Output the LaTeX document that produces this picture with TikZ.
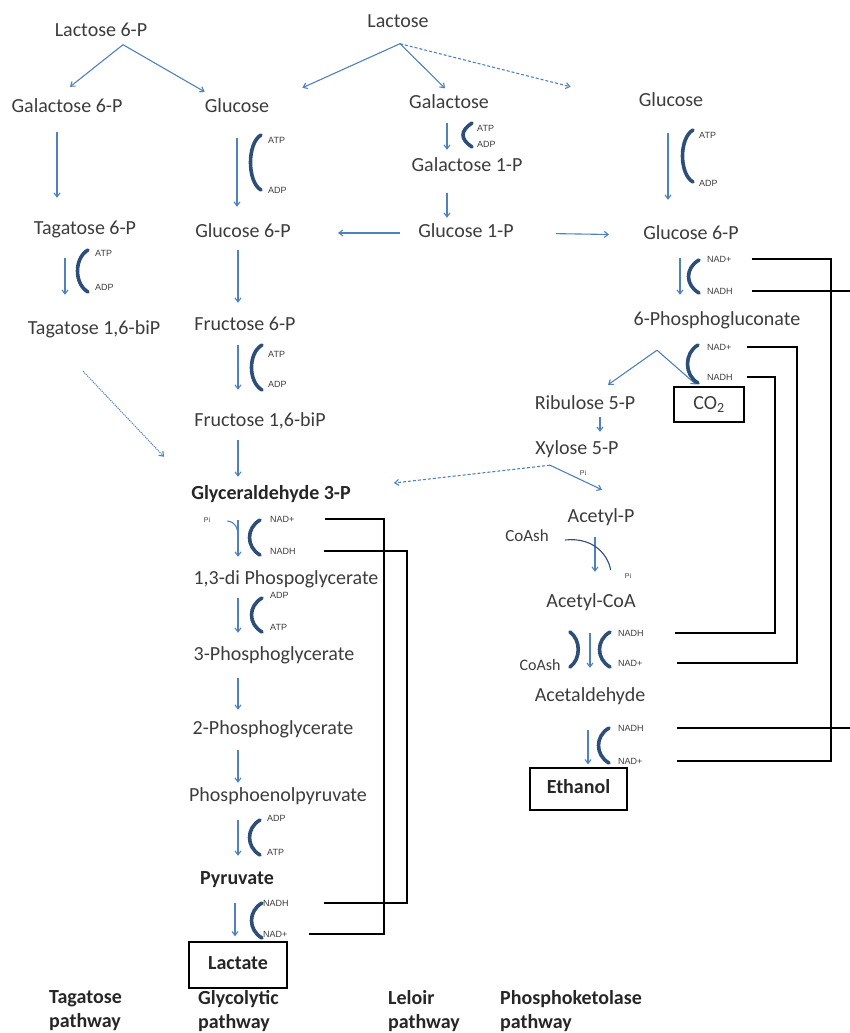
\documentclass[tikz,border=0pt]{standalone}
\usepackage{fontspec}
\setmainfont{Carlito}
\newfontfamily\rotulo{Liberation Sans}
\usetikzlibrary{arrows.meta,calc}
\definecolor{azul}{RGB}{79,129,189}
\definecolor{escuro}{RGB}{44,78,120}
\definecolor{texto}{RGB}{60,60,60}
\begin{document}
\begin{tikzpicture}[x=1pt,y=-1pt,
	met/.style={font=\fontsize{20}{24}\selectfont, text=texto, text height=13pt, text depth=4pt, inner sep=2pt},
	metb/.style={met, font=\fontsize{20}{24}\selectfont\bfseries, text=black!85},
	caixa/.style={draw=black, line width=1.2pt},
	cof/.style={font=\rotulo\fontsize{9}{10}\selectfont, text=texto, anchor=west, inner sep=0pt},
	pe/.style={font=\rotulo\fontsize{7}{8}\selectfont, text=texto, inner sep=0pt},
	via/.style={font=\fontsize{20}{24}\selectfont\bfseries, text=black!85, align=left, anchor=north west, inner sep=0pt},
	seta/.style={draw=azul, line width=1.1pt, -{Straight Barb[length=4pt,width=6pt]}},
	colchete/.style={draw=escuro, line width=3.6pt, line cap=round},
	fio/.style={draw=black, line width=1.1pt}]

\useasboundingbox (0,0) rectangle (850,1033);

% via do tagatose
	\node[met] (lac6p) at (101,32) {Lactose 6-P};
	\node[met] (gal6p) at (67,108) {Galactose 6-P};
	\node[met] (tag6p) at (85,230) {Tagatose 6-P};
	\node[met] (tbp) at (94,330) {Tagatose 1,6-biP};

% via glicolitica
	\node[met] (glcA) at (237,108) {Glucose};
	\node[met] (g6pA) at (243,233) {Glucose 6-P};
	\node[met] (f6p) at (245,326) {Fructose 6-P};
	\node[met] (f16) at (260,422) {Fructose 1,6-biP};
	\node[metb] (g3p) at (271,495) {Glyceraldehyde 3-P};
	\node[met] (dpg) at (286,580) {1,3-di Phospoglycerate};
	\node[met] (pga3) at (274,656) {3-Phosphoglycerate};
	\node[met] (pga2) at (273,730) {2-Phosphoglycerate};
	\node[met] (pep) at (278,797) {Phosphoenolpyruvate};
	\node[metb] (pyr) at (237,880) {Pyruvate};
	\node[metb, caixa, minimum width=98pt, minimum height=46pt] (lct) at (238,965) {Lactate};

% via de leloir
	\node[met] (lcs) at (398,23) {Lactose};
	\node[met] (gal) at (449,104) {Galactose};
	\node[met] (gal1p) at (467,167) {Galactose 1-P};
	\node[met] (g1p) at (466,233) {Glucose 1-P};

% via da fosfocetolase
	\node[met] (glcB) at (671,102) {Glucose};
	\node[met] (g6pB) at (691,235) {Glucose 6-P};
	\node[met] (pg6) at (717,321) {6-Phosphogluconate};
	\node[met] (rib) at (585,405) {Ribulose 5-P};
	\node[met, caixa, minimum width=70pt, minimum height=35pt] (co2) at (709,404.5) {CO\textsubscript{2}};
	\node[met] (xyl) at (577,450) {Xylose 5-P};
	\node[met] (acp) at (601,518) {Acetyl-P};
	\node[met] (acoa) at (591,603) {Acetyl-CoA};
	\node[met] (acet) at (590,697) {Acetaldehyde};
	\node[metb, caixa, minimum width=97pt, minimum height=42pt] (eth) at (578.5,789) {Ethanol};
	\node[met, font=\fontsize{17}{20}\selectfont] (coa1) at (527,537) {CoAsh};
	\node[met, font=\fontsize{16}{19}\selectfont] (coa2) at (540,666) {CoAsh};

% cofatores
	\foreach \n/\x/\y/\t in {glcAatp/268/140/ATP, glcAadp/268/190/ADP, galatp/477/128/ATP, galadp/477/144/ADP,
		glcBatp/699/135/ATP, glcBadp/699/183/ADP, tagatp/95/253/ATP, tagadp/95/287/ADP,
		f6patp/268/354/ATP, f6padp/268/384/ADP, g6pBnadp/707/259/NAD+, g6pBnadh/707/291/NADH,
		pg6nadp/707/347/NAD+, pg6nadh/707/377/NADH, g3pnadp/270/519/NAD+, g3pnadh/270/551/NADH,
		dpgadp/270/595/ADP, dpgatp/270/627/ATP, pepadp/267/818/ADP, pepatp/267/852/ATP,
		pyrnadh/263/903/NADH, pyrnadp/263/934/NAD+, acoanadh/618/633/NADH, acoanadp/618/663/NAD+,
		acetnadh/618/728/NADH, acetnadp/618/761/NAD+}
		\node[cof] (\n) at (\x,\y) {\t};
	\node[pe] (pi1) at (207,520) {Pi};
	\node[pe] (pi2) at (583,473) {Pi};
	\node[pe] (pi3) at (628,576) {Pi};

% setas verticais
	\foreach \a/\b/\x/\s/\e in {glcA/g6pA/237/19.5pt/15.5pt, g6pA/f6p/238/6.5pt/12.5pt, f6p/f16/238/8.5pt/21.5pt,
		f16/g3p/238/7.5pt/7.5pt, g3p/dpg/238/14.5pt/12.5pt, dpg/pga3/238/7.5pt/12.5pt,
		pga3/pga2/238/11.5pt/9.5pt, pga2/pep/238/9.5pt/3.5pt, pep/pyr/238/12.5pt/13.5pt,
		pyr/lct/235/12.5pt/5pt, gal6p/tag6p/57/13.5pt/21.5pt, tag6p/tbp/65/17.5pt/24.5pt,
		gal/gal1p/447/8.5pt/6.5pt, gal1p/g1p/447/15.5pt/4.5pt, glcB/g6pB/668/20.5pt/24.5pt,
		g6pB/pg6/680/12.5pt/15.5pt, rib/xyl/600/1.5pt/7.5pt, acp/acoa/595/8.5pt/20.5pt,
		acoa/acet/590/19.5pt/18.5pt, acet/eth/588/22.5pt/3pt}
		\draw[seta, shorten <=\s, shorten >=\e] (\a.south -| \x,0) -- (\b.north -| \x,0);

% setas diagonais
	\coordinate (l6) at ($(lac6p.south)+(22,2)$);
	\draw[seta] (l6) -- ($(gal6p.north)+(3,-10.5)$);
	\draw[seta] (l6) -- ($(glcA.north west)+(2,-5.5)$);
	\coordinate (lx) at ($(lcs.south)+(2,10)$);
	\draw[seta] (lx) -- ($(glcA.north east)+(31,-9.5)$);
	\draw[seta] (lx) -- ($(gal.north)+(-4,-5)$);
	\draw[seta, densely dashed] (lx) -- ($(glcB.north west)+(-66,-4.5)$);
	\draw[seta, shorten <=16pt, shorten >=45pt] (g1p.west) -- (g6pA.east);
	\draw[seta, shorten <=40pt, shorten >=32pt] (g1p.east) -- (g6pB.west);
	\draw[seta, densely dotted] ($(tbp.south)+(-11,30.5)$) -- ($(g3p.north west)+(-25,-27.5)$);
	\coordinate (xs) at ($(xyl.south)+(-27,4.5)$);
	\draw[seta, densely dashed] (xs) -- ($(g3p.east)+(41,-12)$);
	\draw[seta] (xs) -- ($(acp.north)+(1,-17.5)$);
	\coordinate (ps) at ($(pg6.south)+(-60,18.5)$);
	\draw[seta] (ps) -- ($(rib.north)+(23,-9.5)$);
	\draw[seta] (ps) -- ($(co2.north)+(-13,-2)$);

% curvas de Pi e CoAsh
	\coordinate (eixo) at (238,0);
	\draw[azul, line width=1.1pt] ($(pi1.east)+(17,1)$) .. controls +(8,1) and +(0,-8) .. ($(g3p.south -| eixo)+(0,30)$);
	\draw[escuro, line width=1.1pt] ($(coa1.east)+(14,3)$) .. controls +(28,-3) and +(-3,-16) .. ($(pi3.west)+(-14,-6)$);

% colchetes
	\foreach \x/\a/\b/\d in {261/135/190/14, 472/123/147/12, 693/130/182/14, 88/250/292/14,
		262/345/390/14, 699/260/293/14, 698/345/383/14, 260/520/555/14, 262/598/632/14,
		260/820/855/14, 262/903/938/14, 610/632/667/14, 609/728/763/14}
		\draw[colchete] (\x,\a) .. controls (\x-\d,\a+8) and (\x-\d,\b-8) .. (\x,\b);
	\draw[colchete] (570,632) .. controls (581,640) and (581,659) .. (570,667);

% ligacoes NAD
	\coordinate (v1) at (384,0);
	\coordinate (v2) at (407,0);
	\coordinate (v3) at (831,0);
	\coordinate (v5) at (797,0);
	\coordinate (v6) at (775,0);
	\coordinate (borda) at (850,0);
	\draw[fio] ([xshift=30pt]g3pnadp.east) -- (g3pnadp.east -| v1) -- (pyrnadp.east -| v1) -- ([xshift=21pt]pyrnadp.east);
	\draw[fio] ([xshift=28pt]g3pnadh.east) -- (g3pnadh.east -| v2) -- (pyrnadh.east -| v2) -- ([xshift=35pt]pyrnadh.east);
	\draw[fio] ([xshift=20pt]g6pBnadp.east) -- (g6pBnadp.east -| v3) -- (acetnadp.east -| v3) -- ([xshift=34pt]acetnadp.east);
	\draw[fio] ([xshift=19pt]g6pBnadh.east) -- (g6pBnadh.east -| borda);
	\draw[fio] ([xshift=33pt]acetnadh.east) -- (acetnadh.east -| borda);
	\draw[fio] ([xshift=15pt]pg6nadp.east) -- (pg6nadp.east -| v5) -- (acoanadp.east -| v5) -- ([xshift=34pt]acoanadp.east);
	\draw[fio] ([xshift=14pt]pg6nadh.east) -- (pg6nadh.east -| v6) -- (acoanadh.east -| v6) -- ([xshift=31pt]acoanadh.east);

% nomes das vias
	\node[via] (vtag) at (49,990) {Tagatose\\pathway};
	\node[via] (vgli) at (198,990) {Glycolytic\\pathway};
	\node[via] (vlel) at (388,990) {Leloir\\pathway};
	\node[via] (vfos) at (500,990) {Phosphoketolase\\pathway};
\end{tikzpicture}
\end{document}
